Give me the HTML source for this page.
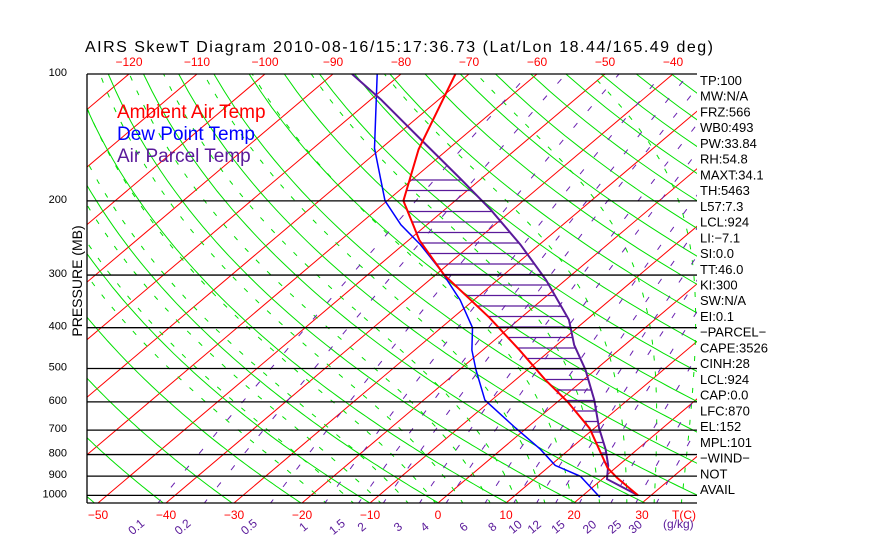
<!DOCTYPE html>
<html><head><meta charset="utf-8"><style>
html,body{margin:0;padding:0;background:#fff;}
svg{display:block;font-family:"Liberation Sans",sans-serif;}
</style></head><body>
<svg id="c" width="870" height="560" viewBox="0 0 870 560" xmlns="http://www.w3.org/2000/svg">
<defs><clipPath id="plot"><rect x="87" y="74" width="610" height="429"/></clipPath></defs>
<text x="85" y="52" font-size="16" textLength="628">AIRS SkewT Diagram 2010-08-16/15:17:36.73 (Lat/Lon 18.44/165.49 deg)</text>
<g id="bg" clip-path="url(#plot)"></g>
<g id="fg"></g>
<text x="117" y="118" font-size="19" fill="#ff0000">Ambient Air Temp</text>
<text x="117" y="140" font-size="19" fill="#0000ff">Dew Point Temp</text>
<text x="117" y="162" font-size="19" fill="#5a1a9a">Air Parcel Temp</text>
<text transform="translate(82,281) rotate(-90)" text-anchor="middle" font-size="14">PRESSURE (MB)</text>
</svg>
<script>
const pLevels=[100,200,300,400,500,600,700,800,900,1000];
const tempTicksBottom=[-50,-40,-30,-20,-10,0,10,20,30];
const tempTicksTop=[-120,-110,-100,-90,-80,-70,-60,-50,-40];
const mixRatios=[0.1,0.2,0.5,1,1.5,2,3,4,6,8,10,12,15,20,25,30];
const ambientP=[100,151,200,248,300,379,452,532,600,693,860,909,1000];
const ambientT=[-72,-64.3,-57.6,-48.4,-38.7,-24.6,-14.6,-5.6,1.5,9.3,18.8,22,28.1];
const dewP=[100,150,200,228,254,292,344,400,452,503,594,690,777,849,901,1010];
const dewT=[-83.5,-71,-60.3,-53.8,-47.5,-40.1,-32,-25.4,-21.6,-17.6,-11,-1.8,5.7,10.7,16.3,22.8];
const parcelP=[100,115,143,178,210,254,308,383,440,503,594,693,777,849,915,1000];
const parcelT=[-87.2,-78.5,-65.7,-52.8,-43.2,-32.8,-22.9,-12.6,-7.4,-1.5,5.1,10.7,15.3,18.5,20.7,28.1];
const indices=["TP:100","MW:N/A","FRZ:566","WB0:493","PW:33.84","RH:54.8","MAXT:34.1","TH:5463","L57:7.3","LCL:924","LI:\u22127.1","SI:0.0","TT:46.0","KI:300","SW:N/A","EI:0.1","\u2212PARCEL\u2212","CAPE:3526","CINH:28","LCL:924","CAP:0.0","LFC:870","EL:152","MPL:101","\u2212WIND\u2212"," NOT"," AVAIL"];

const NS="http://www.w3.org/2000/svg";
const bg=document.getElementById('bg'), fg=document.getElementById('fg');
function Y(p){return 74+183*Math.log(p/100);}
function X(T,p){return 438+6.8*T+1.1818*(503-Y(p));}
function el(tag,attrs,parent){const e=document.createElementNS(NS,tag);for(const k in attrs)e.setAttribute(k,attrs[k]);parent.appendChild(e);return e;}
function pathD(pts){return pts.map((q,i)=>(i?'L':'M')+q[0].toFixed(1)+','+q[1].toFixed(1)).join('');}

for(let T=-160;T<=50;T+=10){
  const e=el('line',{x1:X(T,1050),y1:Y(1050),x2:X(T,100),y2:Y(100),stroke:'#ff0000','stroke-width':1},bg);
  
  
}
for(let th=200;th<=560;th+=10){
  const pts=[];for(let p=1050;p>=100;p-=10){pts.push([X(th*Math.pow(p/1000,0.286)-273.15,p),Y(p)]);}
  const e=el('path',{d:pathD(pts),fill:'none',stroke:'#00e000','stroke-width':1},bg);
  
  
}
function es(Tc){return 6.112*Math.exp(17.67*Tc/(Tc+243.5));}
for(let T0=-16;T0<=44;T0+=4){
  let T=T0+273.15, pts=[];
  for(let p=1050;p>=100;p-=5){
    pts.push([X(T-273.15,p),Y(p)]);
    const e=es(T-273.15), rs=0.622*e/(p-e);
    const dTdp=(287*T+2.5e6*rs)/(p*(1004+2.5e6*2.5e6*rs*0.622/(287*T*T)));
    T-=dTdp*5;
  }
  const e=el('path',{d:pathD(pts),fill:'none',stroke:'#00e000','stroke-width':1,'stroke-dasharray':'5 11'},bg);
  
  
}
function tdw(w,p){const e=w*p/(622+w);const l=Math.log(e/6.112);return 243.5*l/(17.67-l);}
mixRatios.forEach(w=>{
  const pts=[];for(let p=1050;p>=100;p-=10)pts.push([X(tdw(w,p),p),Y(p)]);
  const e=el('path',{d:pathD(pts),fill:'none',stroke:'#6a20b0','stroke-width':1,'stroke-dasharray':'6 16'},bg);
  
  
});
pLevels.forEach(p=>{
  const e=el('line',{x1:87,y1:Y(p),x2:697,y2:Y(p),stroke:'#000','stroke-width':1.3},fg);
  
  
  const t=el('text',{x:67,y:Y(p)+2,'font-size':11,'text-anchor':'end'},fg);
  t.textContent=p;
  
  
});
el('line',{x1:87,y1:74,x2:87,y2:503,stroke:'#000','stroke-width':1.3},fg);
el('line',{x1:87,y1:503,x2:697,y2:503,stroke:'#000','stroke-width':1.3},fg);
tempTicksBottom.forEach(T=>{
  const t=el('text',{x:438+6.8*T,y:519,'font-size':12,fill:'#ff0000','text-anchor':'middle'},fg);
  t.textContent=T<0?'\u2212'+(-T):T;
  
  
});
let tc=el('text',{x:672,y:519,'font-size':12,fill:'#ff0000'},fg);tc.textContent='T(C)';
tempTicksTop.forEach(T=>{
  const t=el('text',{x:438+6.8*T+507,y:66,'font-size':12,fill:'#ff0000','text-anchor':'middle'},fg);
  t.textContent='\u2212'+(-T);
  
  
});
mixRatios.forEach(w=>{
  const x=X(tdw(w,1050),1050)-18;
  const t=el('text',{x:0,y:0,'font-size':12,fill:'#5a1a9a',transform:`translate(${x},530) rotate(-40)`,'text-anchor':'middle'},fg);
  t.textContent=w;
  
  
});
let gk=el('text',{x:663,y:528,'font-size':12,fill:'#5a1a9a'},fg);gk.textContent='(g/kg)';

function line(P,T){return P.map((p,i)=>[X(T[i],p),Y(p)]);}
const amb=line(ambientP,ambientT), par=line(parcelP,parcelT);
function xAt(pts,y){for(let i=0;i<pts.length-1;i++){const a=pts[i],b=pts[i+1];const lo=Math.min(a[1],b[1]),hi=Math.max(a[1],b[1]);if(y>=lo&&y<=hi){const f=(y-a[1])/(b[1]-a[1]||1);return a[0]+f*(b[0]-a[0]);}}return null;}
for(let y=180;y<=Y(870);y+=10.5){
  const xa=xAt(amb,y),xp=xAt(par,y);
  if(xa!==null&&xp!==null&&xp>xa){
    const e=el('line',{x1:xa,y1:y,x2:xp,y2:y,stroke:'#5a1a9a','stroke-width':1.3},bg);
    
    
  }
}
let e1=el('path',{d:pathD(line(dewP,dewT)),fill:'none',stroke:'#0000ff','stroke-width':1.5},bg);

let e2=el('path',{d:pathD(par),fill:'none',stroke:'#5a1a9a','stroke-width':2},bg);

let e3=el('path',{d:pathD(amb),fill:'none',stroke:'#ff0000','stroke-width':2},bg);


indices.forEach((s,i)=>{
  const t=el('text',{x:700,y:85+i*15.73,'font-size':13},fg);
  t.textContent=s;
  
  
});
</script>
</body></html>
